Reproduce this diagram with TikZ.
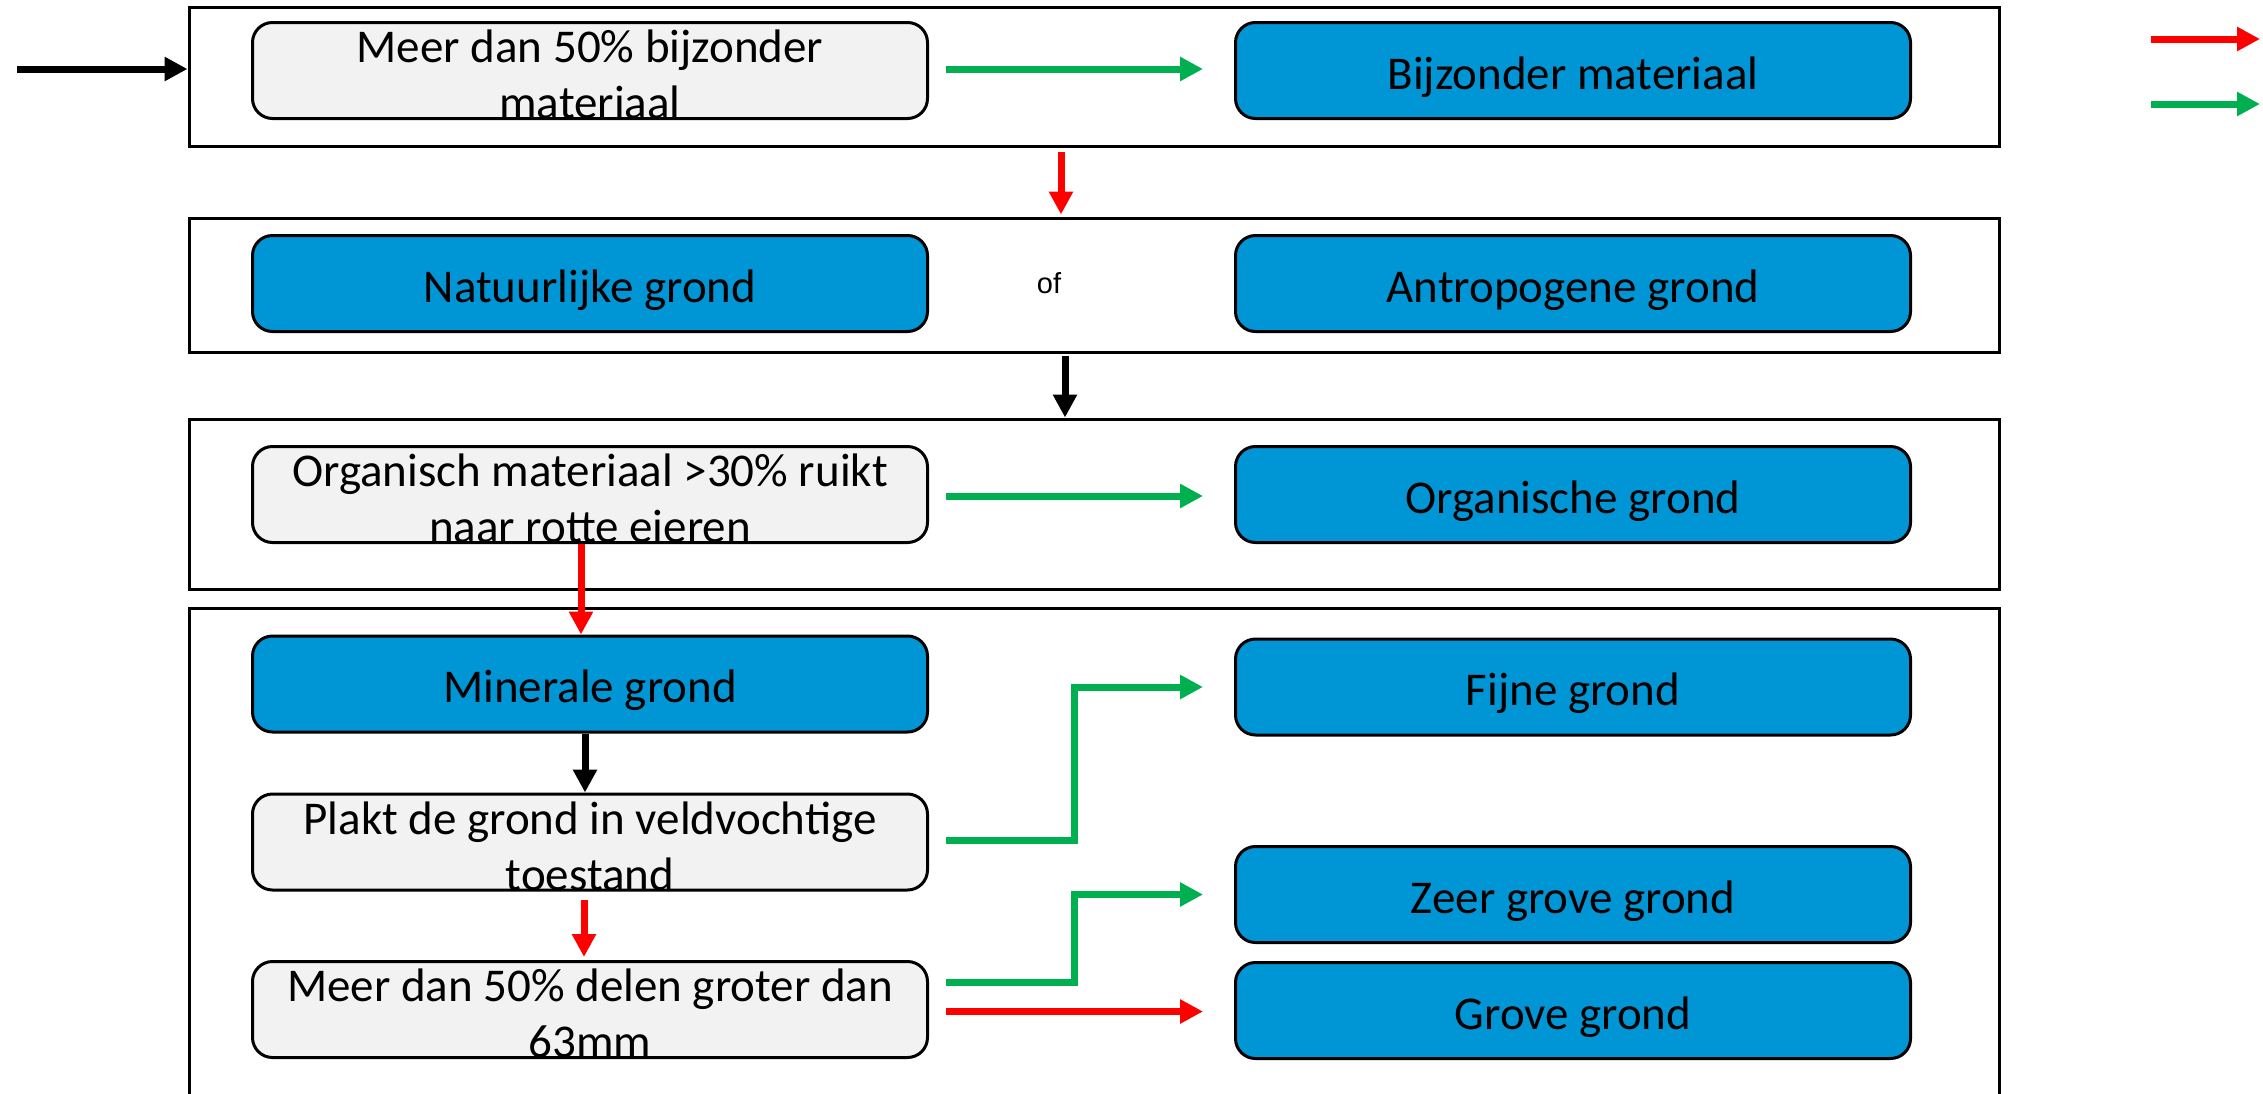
\documentclass[tikz,border=0pt]{standalone}
\usepackage{fontspec}
\setmainfont{Carlito}
\newfontfamily\arialf{Liberation Sans}
\usetikzlibrary{arrows.meta,calc}
\definecolor{boxblue}{RGB}{0,150,214}
\definecolor{boxgray}{RGB}{242,242,242}
\definecolor{arrgreen}{RGB}{0,176,80}
\definecolor{arrred}{RGB}{255,0,0}
\begin{document}
\begin{tikzpicture}[x=1pt,y=-1pt,
  frame/.style={draw=black, line width=3pt, rectangle, inner sep=0pt, minimum width=1810pt},
  box/.style={draw=black, line width=3pt, rounded corners=20pt, minimum width=675pt, minimum height=96pt, inner sep=0pt, text height=47pt, text depth=9.5pt, font=\fontsize{47}{56}\selectfont},
  bluebox/.style={box, fill=boxblue},
  graybox/.style={box, fill=boxgray},
  txt/.style={font=\fontsize{47}{56}\selectfont, align=center, inner sep=0pt, yshift=-4pt},
  arr/.style={line width=7pt, -{Triangle[width=23pt,length=23pt]}},
  redarr/.style={arr, draw=arrred},
  greenarr/.style={arr, draw=arrgreen},
  blackarr/.style={arr, draw=black},
]
\useasboundingbox (0,0) rectangle (2263,1093);
\clip (0,0) rectangle (2263,1093);

% frames
\node[frame, minimum height=139pt] (f1) at (1094,76.5) {};
\node[frame, minimum height=134pt] (f2) at (1094,285) {};
\node[frame, minimum height=170pt] (f3) at (1094,504) {};
\node[frame, minimum height=542pt] (f4) at (1094,879) {};

% boxes
\node[graybox] (q1) at (590,70.5) {};
\node[txt] (q1t) at (q1) {Meer dan 50\% bijzonder\\materiaal};
\node[bluebox] (r1) at (1573,70.5) {Bijzonder materiaal};

\node[bluebox] (nat) at (590,283.5) {Natuurlijke grond};
\node[font=\arialf\fontsize{29}{34}\selectfont, inner sep=0pt] (of) at (1049,283) {of};
\node[bluebox] (ant) at (1573,283.5) {Antropogene grond};

\node[graybox] (q2) at (590,494.5) {};
\node[txt] (q2t) at (q2) {Organisch materiaal >30\% ruikt\\naar rotte eieren};
\node[bluebox] (org) at (1573,494.5) {Organische grond};

\node[bluebox] (min) at (590,684) {Minerale grond};
\node[bluebox] (fijn) at (1573,687) {Fijne grond};

\node[graybox] (q3) at (590,842) {};
\node[txt] (q3t) at (q3) {Plakt de grond in veldvochtige\\toestand};
\node[bluebox] (zeer) at (1573,894.5) {Zeer grove grond};

\node[graybox] (q4) at (590,1009.5) {};
\node[txt] (q4t) at (q4) {Meer dan 50\% delen groter dan\\63mm};
\node[bluebox] (grove) at (1573,1010.5) {Grove grond};

% entry arrow
\coordinate (start) at (17,69);
\draw[blackarr] (start) -- (start -| f1.west);

% legend
\coordinate (lr1) at (2151,39);
\coordinate (lr2) at (2260,39);
\coordinate (lg1) at (2151,104);
\coordinate (lg2) at (2260,104);
\draw[redarr] (lr1) -- (lr2);
\draw[greenarr] (lg1) -- (lg2);

% connectors
\draw[greenarr] ([xshift=17pt,yshift=1.5pt]q1.east) -- ([xshift=-31pt,yshift=1.5pt]r1.west);
\draw[redarr] ([xshift=-33pt,yshift=-4pt]f1.south) -- ([xshift=-33pt,yshift=2pt]f2.north);
\draw[blackarr] ([xshift=-29pt,yshift=-2pt]f2.south) -- ([xshift=-29pt]f3.north);
\draw[greenarr] ([xshift=17pt,yshift=-1.5pt]q2.east) -- ([xshift=-31pt,yshift=-1.5pt]org.west);
\draw[redarr] ([xshift=-9pt]q2.south) -- ([xshift=-9pt]min.north);
\draw[blackarr] ([xshift=-5pt]min.south) -- ([xshift=-5pt]q3.north);
\draw[greenarr] ([xshift=17pt,yshift=2pt]q3.east) -- ++(128,0) |- ([xshift=-31pt]fijn.west);
\draw[redarr] ([xshift=-6pt,yshift=-8pt]q3.south) -- ([xshift=-6pt,yshift=3pt]q4.north);
\draw[greenarr] ([xshift=17pt,yshift=27pt]q4.east) -- ++(128,0) |- ([xshift=-31pt]zeer.west);
\draw[redarr] ([xshift=17pt,yshift=-2pt]q4.east) -- ([xshift=-31pt,yshift=-1pt]grove.west);
\end{tikzpicture}
\end{document}
